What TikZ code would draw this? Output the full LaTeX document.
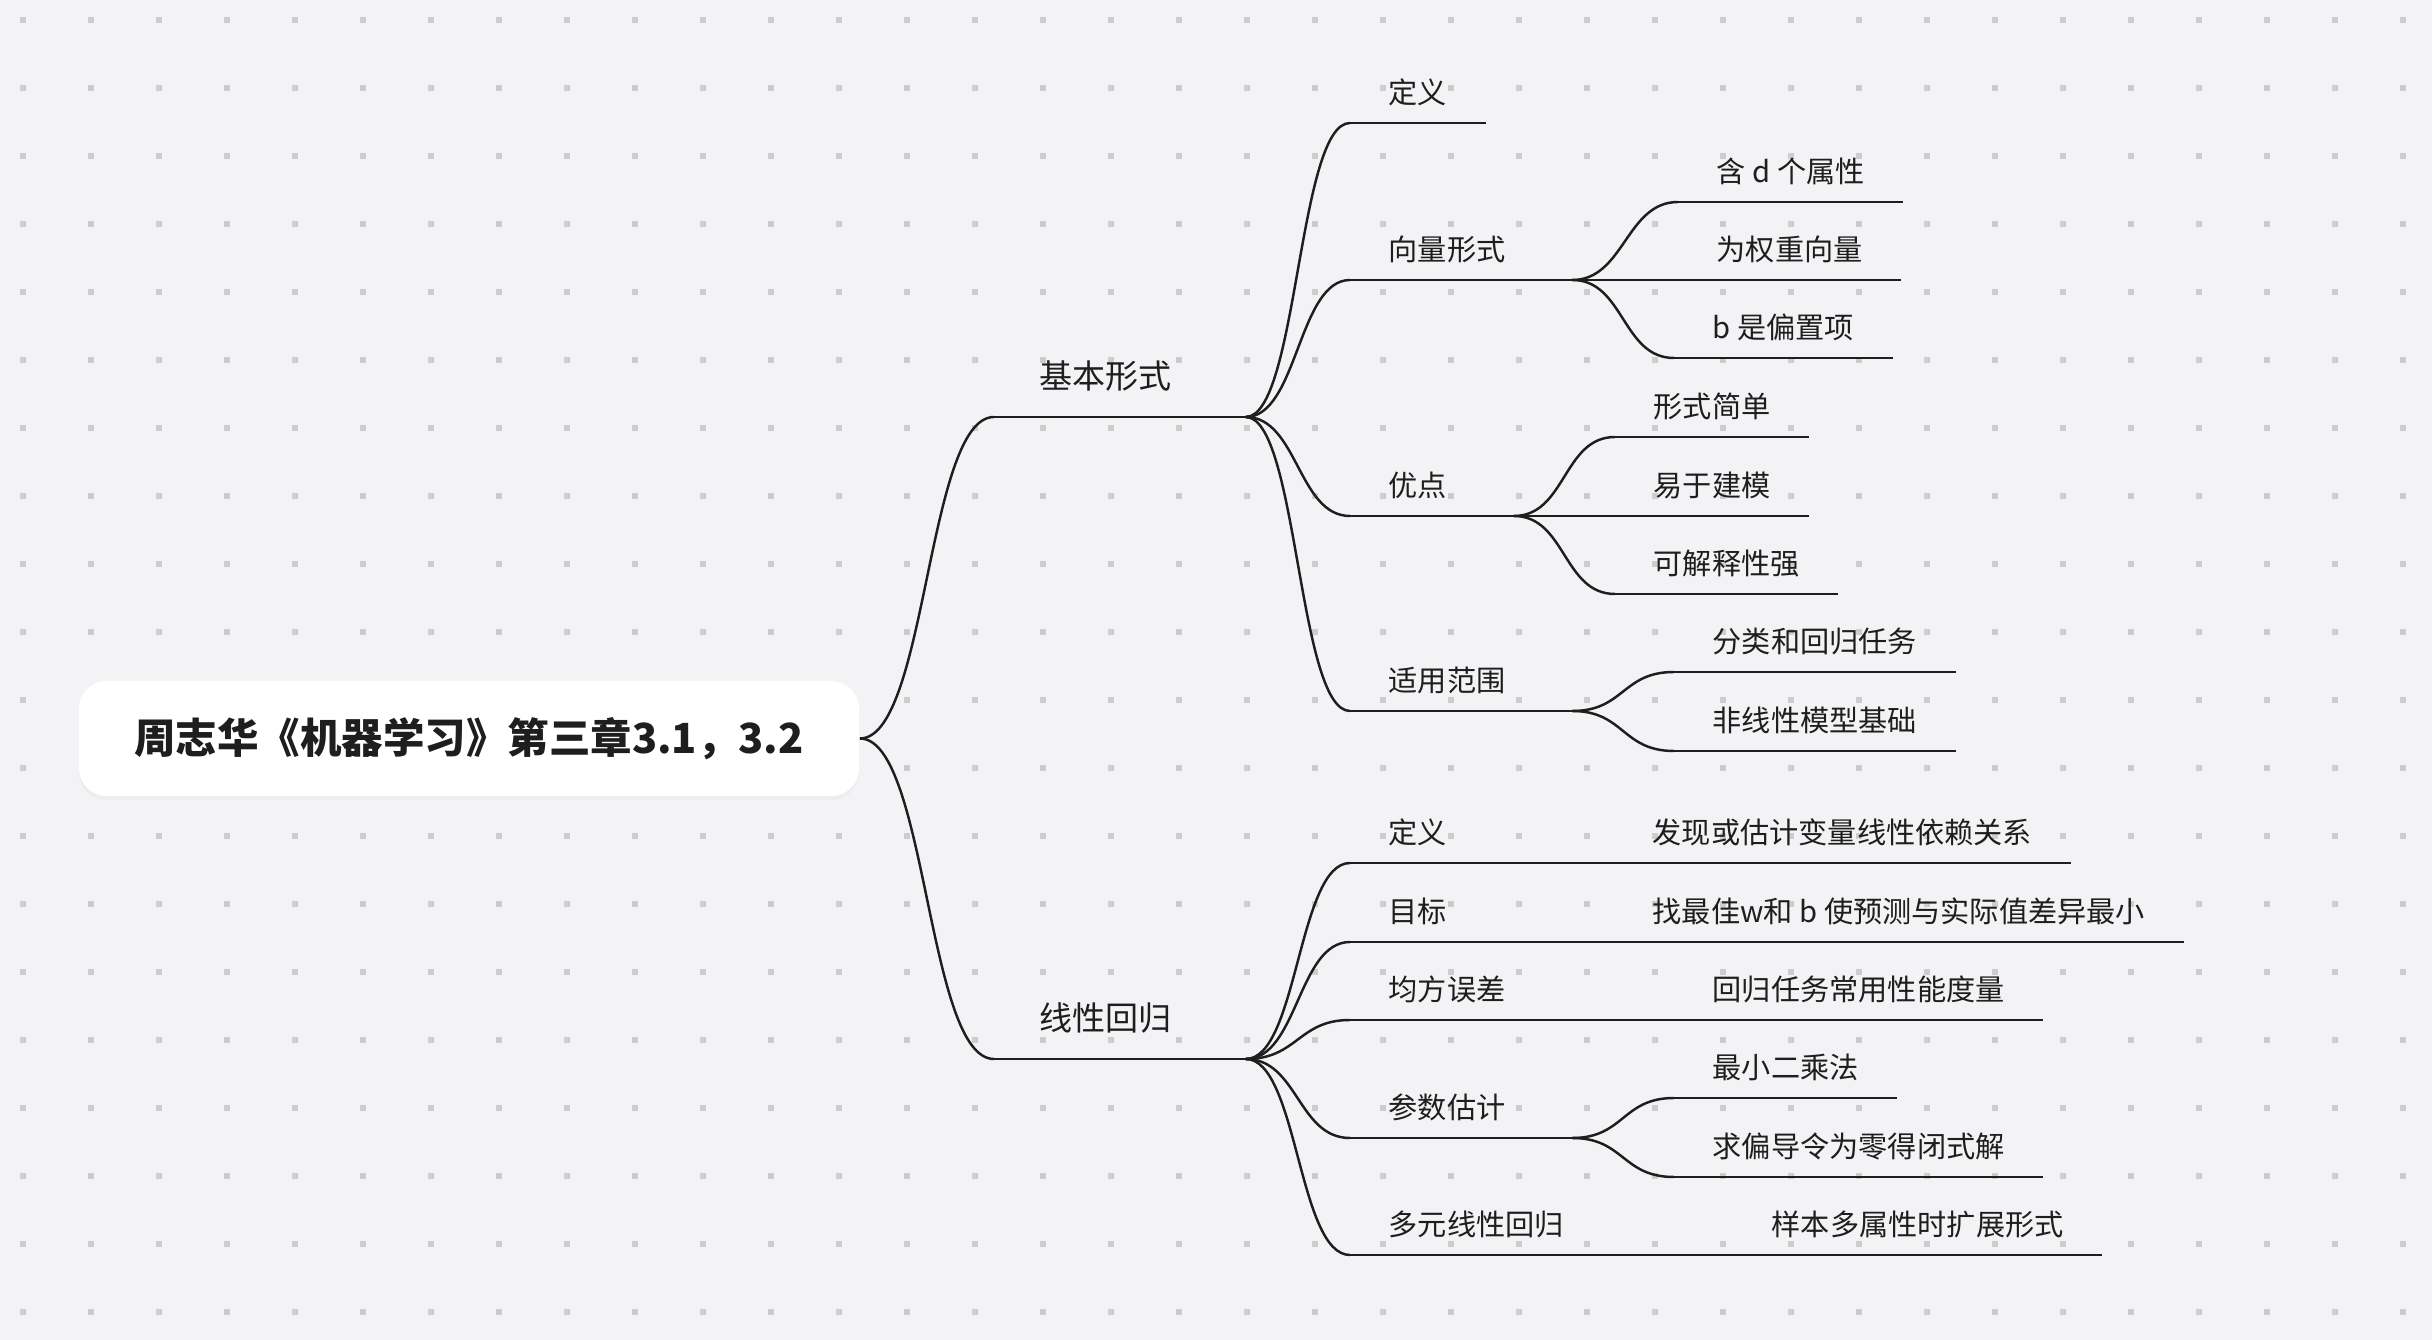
\documentclass[tikz,border=0pt]{standalone}
\usepackage{fontspec}
\setmainfont{Noto Sans CJK SC}
\usetikzlibrary{shadows}
\definecolor{canvas}{HTML}{F3F3F5}
\definecolor{griddot}{HTML}{CDCDCD}
\definecolor{ink}{HTML}{1E1E1E}
\tikzset{
  rootbox/.style={fill=white, rounded corners=0.28cm, minimum width=7.8cm,
    minimum height=1.15cm, text=ink, font=\fontsize{11.8pt}{14pt}\selectfont\bfseries,
    drop shadow={shadow xshift=0pt, shadow yshift=-1.2pt, opacity=0.05}},
  topic/.style={anchor=south west, inner xsep=0.38cm, inner ysep=0.19cm,
    text depth=0pt, text=ink, font=\fontsize{8.3pt}{10pt}\selectfont},
  major/.style={topic, inner xsep=0.45cm, inner ysep=0.28cm,
    font=\fontsize{9.4pt}{11pt}\selectfont},
  stem/.style={draw=ink, line width=0.7pt},
}
\begin{document}
\begin{tikzpicture}[x=0.01cm, y=-0.01cm]
  % canvas with dot grid
  \fill[canvas] (0,0) rectangle (2432,1340);
  \foreach \i in {0,...,35}
    \foreach \j in {0,...,19}
      \fill[griddot] (20+68*\i, 17+68*\j) rectangle ++(6,6);

  \node[rootbox] (root) at (469,738.5) {周志华《机器学习》第三章3.1，3.2};

  % first level
  \node[major] (basic)  at (994,417)  {基本形式};
  \node[major] (linreg) at (994,1059) {线性回归};

  % basic form
  \node[topic] (defA)  at (1350,123) {定义};
  \node[topic] (vec)   at (1350,280) {向量形式};
  \node[topic] (merit) at (1350,516) {优点};
  \node[topic] (usage) at (1350,711) {适用范围};

  \node[topic] (vec1) at (1678,202) {含 d 个属性};
  \node[topic] (vec2) at (1678,280) {为权重向量};
  \node[topic] (vec3) at (1674,358) {b 是偏置项};

  \node[topic] (mer1) at (1615,437) {形式简单};
  \node[topic] (mer2) at (1615,516) {易于建模};
  \node[topic] (mer3) at (1615,594) {可解释性强};

  \node[topic] (use1) at (1674,672) {分类和回归任务};
  \node[topic] (use2) at (1674,751) {非线性模型基础};

  % linear regression
  \node[topic] (defB)  at (1350,863)  {定义};
  \node[topic] (goal)  at (1350,942)  {目标};
  \node[topic] (mse)   at (1350,1020) {均方误差};
  \node[topic] (param) at (1350,1138) {参数估计};
  \node[topic] (multi) at (1350,1255) {多元线性回归};

  \node[topic] (defB1) at (1614,863)  {发现或估计变量线性依赖关系};
  \node[topic] (goal1) at (1614,942)  {找最佳w和 b 使预测与实际值差异最小};
  \node[topic] (mse1)  at (1674,1020) {回归任务常用性能度量};
  \node[topic] (par1)  at (1674,1098) {最小二乘法};
  \node[topic] (par2)  at (1674,1177) {求偏导令为零得闭式解};
  \node[topic] (mul1)  at (1733,1255) {样本多属性时扩展形式};

  % underlines
  \foreach \n in {defA, vec1, vec2, vec3, mer1, mer2, mer3, use1, use2,
                  defB1, goal1, mse1, par1, par2, mul1}
    \draw[stem] (\n.south west) -- (\n.south east);
  \foreach \n in {basic, linreg, vec, merit, usage, defB, goal, mse, param, multi}
    \draw[stem] (\n.south west) -- ([xshift=2.8mm]\n.south east);

  % connectors
  \foreach \c in {basic, linreg}
    \draw[stem] (root.east) .. controls +(67,0) and +(-67,0) .. (\c.south west);
  \foreach \p/\c in {basic/defA, basic/vec, basic/merit, basic/usage,
                     vec/vec1, vec/vec2, vec/vec3,
                     merit/mer1, merit/mer2, merit/mer3,
                     usage/use1, usage/use2,
                     linreg/defB, linreg/goal, linreg/mse, linreg/param, linreg/multi,
                     defB/defB1, goal/goal1, mse/mse1,
                     param/par1, param/par2, multi/mul1}
    \draw[stem] ([xshift=2.8mm]\p.south east) .. controls +(52,0) and +(-52,0)
      .. (\c.south west);
\end{tikzpicture}
\end{document}
